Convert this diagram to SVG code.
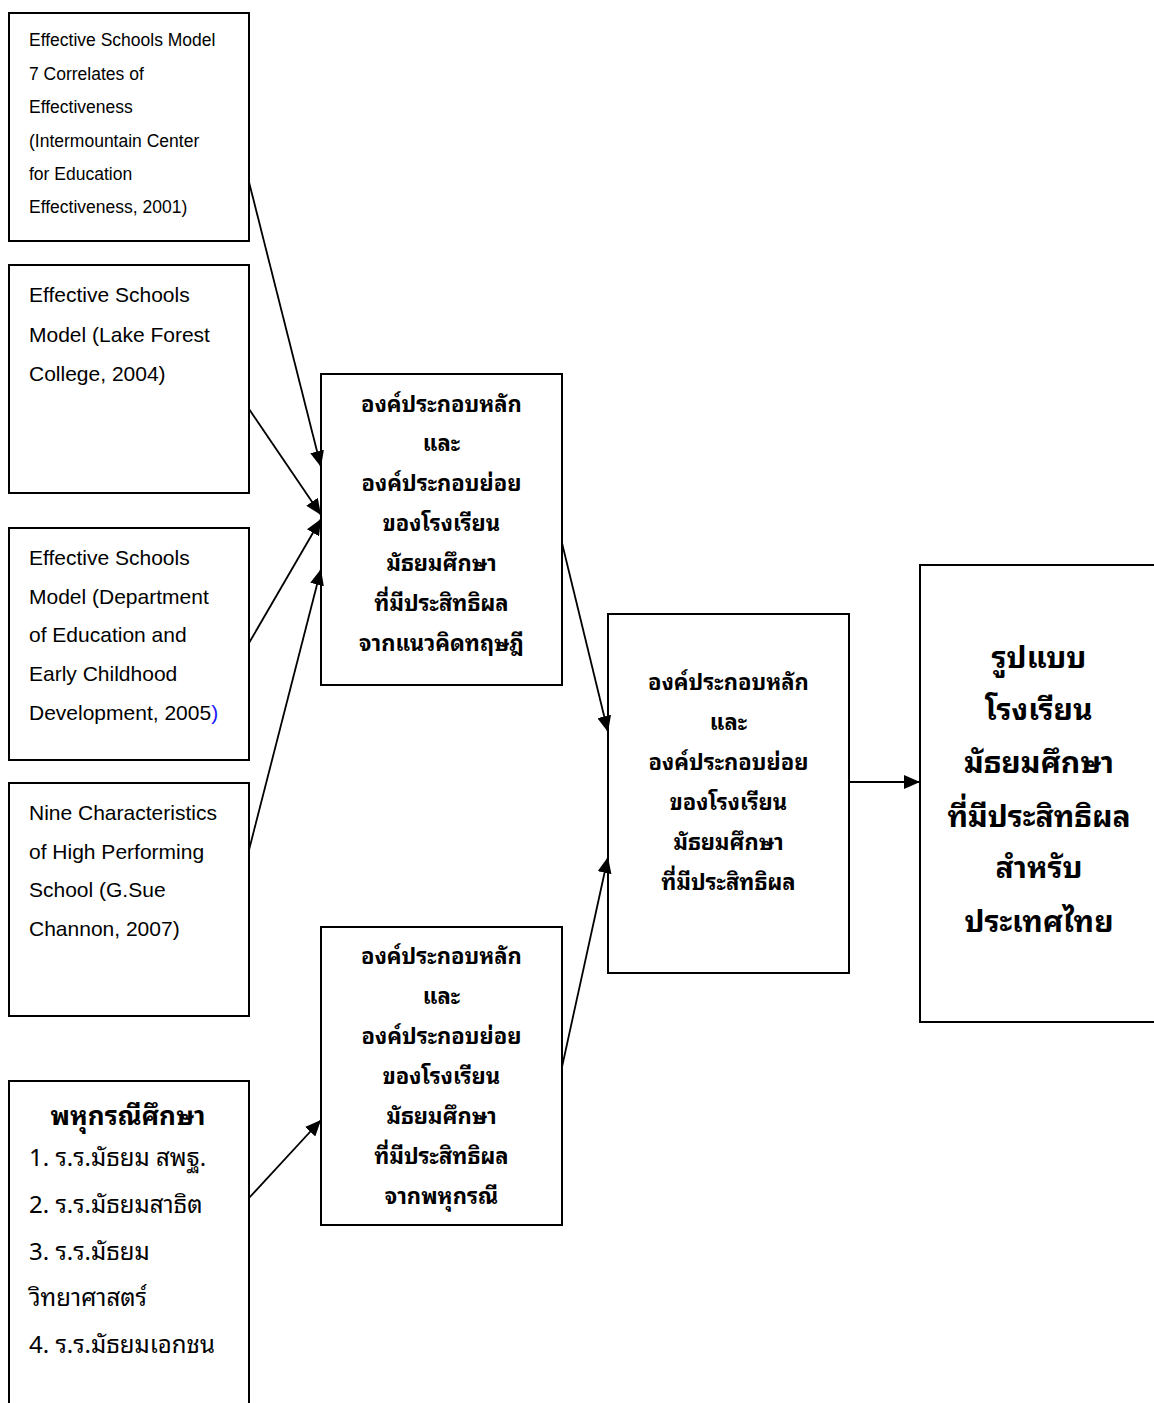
<svg xmlns="http://www.w3.org/2000/svg" width="1154" height="1403" viewBox="0 0 1154 1403">
<style>
.box{fill:#fff;stroke:#000;stroke-width:2}
.en{font-family:"Liberation Sans",Arial,sans-serif;fill:#000}
.s1{font-size:17.5px}
.s2{font-size:21px}
.th{font-family:"Noto Sans Thai Looped","Noto Sans Thai","Liberation Sans",sans-serif;font-weight:bold;font-size:22px;text-anchor:middle;fill:#000}
.thl{font-family:"Noto Sans Thai Looped","Noto Serif Thai","Liberation Serif",serif;font-size:24px;fill:#000}
.big{font-size:30px}
.conn line{stroke:#000;stroke-width:1.8;marker-end:url(#ah)}
</style>
<defs>
<marker id="ah" markerUnits="userSpaceOnUse" markerWidth="16" markerHeight="14" viewBox="0 0 16 14" refX="16" refY="7" orient="auto">
<path d="M0,0 L16,7 L0,14 Z" fill="#000"/>
</marker>
</defs>
<rect width="1154" height="1403" fill="#fff"/>

<g id="n1">
<rect class="box" x="9" y="13" width="240" height="228"/>
<text class="en s1" x="29" y="46">Effective Schools Model</text>
<text class="en s1" x="29" y="79.5">7 Correlates of</text>
<text class="en s1" x="29" y="113">Effectiveness</text>
<text class="en s1" x="29" y="146.5">(Intermountain Center</text>
<text class="en s1" x="29" y="180">for Education</text>
<text class="en s1" x="29" y="213">Effectiveness, 2001)</text>
</g>

<g id="n2">
<rect class="box" x="9" y="265" width="240" height="228"/>
<text class="en s2" x="29" y="302">Effective Schools</text>
<text class="en s2" x="29" y="342">Model (Lake Forest</text>
<text class="en s2" x="29" y="381">College, 2004)</text>
</g>

<g id="n3">
<rect class="box" x="9" y="528" width="240" height="232"/>
<text class="en s2" x="29" y="564.5">Effective Schools</text>
<text class="en s2" x="29" y="603.5">Model (Department</text>
<text class="en s2" x="29" y="642">of Education and</text>
<text class="en s2" x="29" y="681">Early Childhood</text>
<text class="en s2" x="29" y="719.5">Development, 2005<tspan fill="#1a1aff">)</tspan></text>
</g>

<g id="n4">
<rect class="box" x="9" y="783" width="240" height="233"/>
<text class="en s2" x="29" y="820">Nine Characteristics</text>
<text class="en s2" x="29" y="859">of High Performing</text>
<text class="en s2" x="29" y="897">School (G.Sue</text>
<text class="en s2" x="29" y="936">Channon, 2007)</text>
</g>

<g id="n5">
<rect class="box" x="9" y="1081" width="240" height="340"/>
<text class="th" x="128" y="1125" style="font-size:26px">พหุกรณีศึกษา</text>
<text class="thl" x="29" y="1166">1. ร.ร.มัธยม สพฐ.</text>
<text class="thl" x="29" y="1213">2. ร.ร.มัธยมสาธิต</text>
<text class="thl" x="29" y="1260">3. ร.ร.มัธยม</text>
<text class="thl" x="29" y="1306">วิทยาศาสตร์</text>
<text class="thl" x="29" y="1353">4. ร.ร.มัธยมเอกชน</text>
</g>

<g id="nA">
<rect class="box" x="321" y="374" width="241" height="311"/>
<text class="th" x="441.5" y="412">องค์ประกอบหลัก</text>
<text class="th" x="441.5" y="451">และ</text>
<text class="th" x="441.5" y="491">องค์ประกอบย่อย</text>
<text class="th" x="441.5" y="531">ของโรงเรียน</text>
<text class="th" x="441.5" y="571">มัธยมศึกษา</text>
<text class="th" x="441.5" y="611">ที่มีประสิทธิผล</text>
<text class="th" x="441.5" y="651">จากแนวคิดทฤษฎี</text>
</g>

<g id="nB">
<rect class="box" x="321" y="927" width="241" height="298"/>
<text class="th" x="441.5" y="964">องค์ประกอบหลัก</text>
<text class="th" x="441.5" y="1004">และ</text>
<text class="th" x="441.5" y="1044">องค์ประกอบย่อย</text>
<text class="th" x="441.5" y="1084">ของโรงเรียน</text>
<text class="th" x="441.5" y="1124">มัธยมศึกษา</text>
<text class="th" x="441.5" y="1164">ที่มีประสิทธิผล</text>
<text class="th" x="441.5" y="1204">จากพหุกรณี</text>
</g>

<g id="nC">
<rect class="box" x="608" y="614" width="241" height="359"/>
<text class="th" x="728.5" y="690">องค์ประกอบหลัก</text>
<text class="th" x="728.5" y="730">และ</text>
<text class="th" x="728.5" y="770">องค์ประกอบย่อย</text>
<text class="th" x="728.5" y="810">ของโรงเรียน</text>
<text class="th" x="728.5" y="850">มัธยมศึกษา</text>
<text class="th" x="728.5" y="890">ที่มีประสิทธิผล</text>
</g>

<g id="nD">
<rect class="box" x="920" y="565" width="240" height="457"/>
<text class="th big" x="1039" y="668">รูปแบบ</text>
<text class="th big" x="1039" y="720">โรงเรียน</text>
<text class="th big" x="1039" y="773">มัธยมศึกษา</text>
<text class="th big" x="1039" y="827">ที่มีประสิทธิผล</text>
<text class="th big" x="1039" y="878">สำหรับ</text>
<text class="th big" x="1039" y="932">ประเทศไทย</text>
</g>

<g id="connectors" class="conn">
<line x1="249" y1="182" x2="321" y2="467"/>
<line x1="249" y1="409" x2="321" y2="515"/>
<line x1="249" y1="643" x2="321" y2="519"/>
<line x1="249" y1="850" x2="321" y2="569"/>
<line x1="562" y1="543" x2="608" y2="732"/>
<line x1="562" y1="1067" x2="608" y2="857"/>
<line x1="849" y1="782" x2="920" y2="782"/>
<line x1="249" y1="1198" x2="321" y2="1120"/>
</g>
</svg>
